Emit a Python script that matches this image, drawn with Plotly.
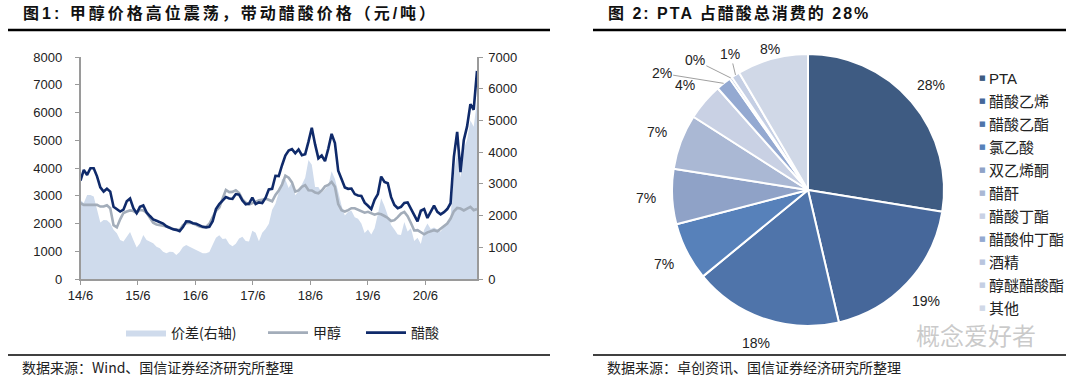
import math
import plotly.graph_objects as go
import pandas as pd

# ---------------- data: left chart ----------------
start_date = "2014-06-06"
step = "21D"

# 醋酸 (left axis, 元/吨)
acetic = [3550, 3930, 3750, 3990, 3990, 3700, 3300, 3150, 3250, 3150,
          2600, 2500, 2430, 2500, 2800, 2900, 2550, 2370, 2600, 2650,
          2400, 2270, 2150, 2100, 2050, 2000, 1900, 1850, 1790, 1770,
          1720, 1870, 2080, 2070, 2010, 1990, 1930, 1880, 1860, 1880,
          2080, 2520, 2700, 2830, 2950, 2900, 2890, 3060, 3040, 2830,
          2690, 2720, 2930, 2700, 2760, 2740, 2920, 3230, 3250, 3720,
          3710, 4100, 4450, 4630, 4680, 4530, 4670, 4460, 4500, 4950,
          5450, 4850, 4350, 4450, 4250, 4700, 5230, 4900, 3900, 3600,
          3300, 3250, 3260, 3060, 3010, 2990, 2750, 2640, 2520, 2850,
          3060, 3690, 3500, 3450, 2950, 2670, 2550, 2600, 2740, 2760,
          2520, 2290, 2080, 2460, 2520, 2200, 2420, 2640, 2420, 2330,
          2410, 2520, 2730, 4400, 5300, 3850, 5000, 5500, 6300, 6100,
          7500]

# 甲醇 (left axis, 元/吨)
methanol = [2730, 2670, 2670, 2670, 2670, 2670, 2610, 2610, 2660, 2550,
            1940, 1860, 2150, 2380, 2430, 2470, 2450, 2380, 2490, 2470,
            2390, 2230, 2030, 1960, 1950, 1920, 1890, 1850, 1800, 1770,
            1770, 1940, 2010, 2030, 2010, 1950, 1890, 1870, 1880, 1990,
            2200, 2460, 2580, 2900, 3210, 3130, 3140, 3200, 3100, 2870,
            2750, 2680, 2720, 2780, 2840, 2850, 2900, 2850, 2800, 3030,
            3190, 3400, 3720, 3650, 3480, 3150, 3190, 3320, 3380, 3200,
            3190, 3120, 3090, 3190, 3340, 3390, 3500, 3320, 2700, 2480,
            2430, 2480, 2550, 2550, 2500, 2440, 2390, 2420, 2380, 2320,
            2360, 2330, 2270, 2200, 2090, 2120, 2230, 2360, 2420, 2260,
            2020, 1750, 1760, 1670, 1610, 1680, 1710, 1760, 1720, 1810,
            1930, 2000, 2180, 2440, 2560, 2540, 2470, 2550, 2600, 2480,
            2520]

# 价差 (right axis, 元/吨)
spread = [2490, 2400, 2650, 2650, 2600, 2150, 1780, 1860, 1850, 1760,
          1550, 1440, 1230, 1180, 1340, 1480, 1230, 990, 1130, 1390,
          1230, 1180, 1130, 1020, 970, 860, 810, 860, 850, 760,
          850, 1010, 1070, 1020, 970, 910, 860, 810, 810, 850,
          1080, 1300, 1380, 1260, 1280, 1100, 1030, 1110, 1280, 1330,
          1200, 1180, 1520, 1460, 1190, 1460, 1580, 1740, 2180, 2370,
          2730, 3150, 3140, 2870, 3060, 2640, 2770, 3000, 3190, 3750,
          3600, 2900, 2900, 2720, 2850, 2950, 3400, 3150, 2750, 2320,
          2000, 2120, 2150, 1950, 1900, 1750, 1450, 1560, 1400, 1600,
          2050, 2550, 2300, 2000, 1700, 1560, 1400, 1390, 1800, 1500,
          1600, 1200, 1300, 1100, 1550, 1750, 1580, 1620, 1550, 1500,
          1650, 1760, 1970, 3300, 4000, 3200, 4100, 4400, 5000, 4800,
          5600]

tick_dates = ["2014-06-06", "2015-06-06", "2016-06-06", "2017-06-06",
              "2018-06-06", "2019-06-06", "2020-06-06"]
tick_labels = ["14/6", "15/6", "16/6", "17/6", "18/6", "19/6", "20/6"]

series_names = ["价差(右轴)", "甲醇", "醋酸"]

# ---------------- data: pie ----------------
pie_labels = ["PTA", "醋酸乙烯", "醋酸乙酯", "氯乙酸", "双乙烯酮", "醋酐",
              "醋酸丁酯", "醋酸仲丁酯", "酒精", "醇醚醋酸酯", "其他"]
pie_values = [27.55, 18.8, 17.7, 6.9, 6.55, 6.55, 4.4, 1.8, 0.3, 1.0, 8.45]
pie_colors = ["#3E5B82", "#46679A", "#4F74AA", "#5781BA", "#8FA2C7", "#AAB8D4",
              "#C9D1E4", "#94A9D1", "#B9C5DE", "#C5CFE4", "#D0D8E7"]
# small slices whose labels sit on leader lines (label offset in px)
small_label_offsets = {"醋酸仲丁酯": (-62, -10), "酒精": (-36, -18), "醇醚醋酸酯": (-5, -21)}

dates = pd.date_range(start_date, periods=len(acetic), freq=step)

W, H = 1080, 383
def px(x):
    return x / W
def py(y):
    return 1 - y / H

CJK = "Noto Sans CJK SC"
LAT = "Arial, Liberation Sans, Noto Sans CJK SC"
NUM = "Arial, Liberation Sans"

fig = go.Figure()
fig.add_trace(go.Scatter(x=dates, y=spread, name=series_names[0], mode="lines",
                         fill="tozeroy", fillcolor="#CFDBEC",
                         line=dict(width=0, color="#CFDBEC"),
                         yaxis="y", legend="legend"))
fig.add_trace(go.Scatter(x=dates, y=methanol, name=series_names[1], mode="lines",
                         line=dict(color="#A3ADBA", width=2.6),
                         yaxis="y2", legend="legend2"))
fig.add_trace(go.Scatter(x=dates, y=acetic, name=series_names[2], mode="lines",
                         line=dict(color="#0F2A6A", width=2.6),
                         yaxis="y2", legend="legend3"))

# pie geometry (pixels)
pcx, pcy, pr = 808, 190, 136
fig.add_trace(go.Pie(labels=pie_labels, values=pie_values, sort=False,
                     direction="clockwise", rotation=0,
                     marker=dict(colors=pie_colors, line=dict(color="white", width=2)),
                     textinfo="none",
                     domain=dict(x=[px(pcx - pr), px(pcx + pr)], y=[py(pcy + pr), py(pcy - pr)]),
                     showlegend=False, hoverinfo="label+percent"))

# percentage labels placed from the slice angles
label_dist = {"其他": 146}
total = sum(pie_values)
cum = 0.0
for lab, v in zip(pie_labels, pie_values):
    mid = (cum + v / 2) / total * 2 * math.pi
    cum += v
    txt = f"{math.floor(v / total * 100 + 0.5)}%"
    if lab in small_label_offsets:
        ex = pcx + pr * math.sin(mid)
        ey = pcy - pr * math.cos(mid)
        ax, ay = small_label_offsets[lab]
        fig.add_annotation(x=px(ex), y=py(ey), xref="paper", yref="paper",
                           text=txt, showarrow=True,
                           ax=ax, ay=ay, arrowhead=0, arrowwidth=1,
                           arrowcolor="#A0A0A0", standoff=0,
                           font=dict(family=NUM, size=14, color="#222"))
    else:
        d = label_dist.get(lab, 162)
        lx = pcx + d * math.sin(mid)
        ly = pcy - d * math.cos(mid)
        fig.add_annotation(x=px(lx), y=py(ly), xref="paper", yref="paper",
                           text=txt, showarrow=False, xanchor="center", yanchor="middle",
                           font=dict(family=NUM, size=14, color="#222"))

# pie legend (small square markers next to the text)
leg_x, leg_y0, leg_dy = 982, 78, 23
for i, (lab, col) in enumerate(zip(pie_labels, pie_colors)):
    yy = leg_y0 + i * leg_dy
    fig.add_annotation(x=px(leg_x), y=py(yy), xref="paper", yref="paper",
                       text="■", showarrow=False, xanchor="center", yanchor="middle",
                       font=dict(family="DejaVu Sans", size=7, color=col))
    fig.add_annotation(x=px(leg_x + 5), y=py(yy), xref="paper", yref="paper",
                       text=lab, showarrow=False, xanchor="left", yanchor="middle",
                       font=dict(family=LAT, size=15, color="#222"))

axis_common = dict(showgrid=False, zeroline=False, showline=True,
                   linecolor="#9A9A9A", linewidth=1.5, ticks="outside",
                   ticklen=4, tickcolor="#9A9A9A",
                   tickfont=dict(family=NUM, size=13, color="#222"))

legend_font = dict(family=CJK, size=14, color="#222")
def leg(x):
    return dict(orientation="h", x=px(x), y=py(333), xanchor="left",
                yanchor="middle", bgcolor="rgba(0,0,0,0)", font=legend_font,
                itemwidth=40)

fig.update_layout(
    width=W, height=H,
    margin=dict(l=0, r=0, t=0, b=0, autoexpand=False),
    paper_bgcolor="white", plot_bgcolor="white",
    xaxis=dict(domain=[px(80.5), px(477)], type="date",
               range=[dates[0], dates[-1]],
               tickmode="array", tickvals=tick_dates, ticktext=tick_labels,
               anchor="y", **axis_common),
    yaxis=dict(domain=[py(279), py(57)], range=[0, 7000], dtick=1000,
               side="right", anchor="x", ticklabelstandoff=3, **axis_common),
    yaxis2=dict(range=[0, 8000], dtick=1000, overlaying="y", side="left",
                anchor="x", ticklabelstandoff=10, **axis_common),
    legend=leg(121),
    legend2=leg(263),
    legend3=leg(361),
    showlegend=True,
)

# titles
fig.add_annotation(text='<b><span style="letter-spacing:3px">图1: 甲醇价格高位震荡，带动醋酸价格（元/吨）</span></b>',
                   x=px(21), y=py(13), xref="paper", yref="paper", width=430, align="left",
                   xanchor="left", yanchor="middle", showarrow=False,
                   font=dict(family=LAT, size=16, color="#111"))
fig.add_annotation(text='<b><span style="letter-spacing:2px">图 2: PTA 占醋酸总消费的 28%</span></b>',
                   x=px(606), y=py(13), xref="paper", yref="paper", width=300, align="left",
                   xanchor="left", yanchor="middle", showarrow=False,
                   font=dict(family=LAT, size=16, color="#111"))
# footers
fig.add_annotation(text="数据来源：Wind、国信证券经济研究所整理",
                   x=px(20), y=py(367), xref="paper", yref="paper",
                   xanchor="left", yanchor="middle", showarrow=False,
                   font=dict(family=CJK, size=14, color="#222"))
fig.add_annotation(text="数据来源：卓创资讯、国信证券经济研究所整理",
                   x=px(605), y=py(367), xref="paper", yref="paper",
                   xanchor="left", yanchor="middle", showarrow=False,
                   font=dict(family=CJK, size=14, color="#222"))
# watermark
fig.add_annotation(text="概念爱好者",
                   x=px(976), y=py(334), xref="paper", yref="paper",
                   xanchor="center", yanchor="middle", showarrow=False,
                   font=dict(family=CJK, size=24, color="rgba(150,150,150,0.5)"))

# rules
for (x0, x1) in [(8, 550), (593, 1066)]:
    fig.add_shape(type="line", xref="paper", yref="paper",
                  x0=px(x0), x1=px(x1), y0=py(30), y1=py(30),
                  line=dict(color="#000", width=2.5))
    fig.add_shape(type="line", xref="paper", yref="paper",
                  x0=px(x0), x1=px(x1), y0=py(355), y1=py(355),
                  line=dict(color="#000", width=1.5))

# no mode bar; remove the browser's default 8px body margin so the figure fills the window
fig.write_html("out.html", config={"displayModeBar": False},
               post_script="document.body.style.margin='0';")
